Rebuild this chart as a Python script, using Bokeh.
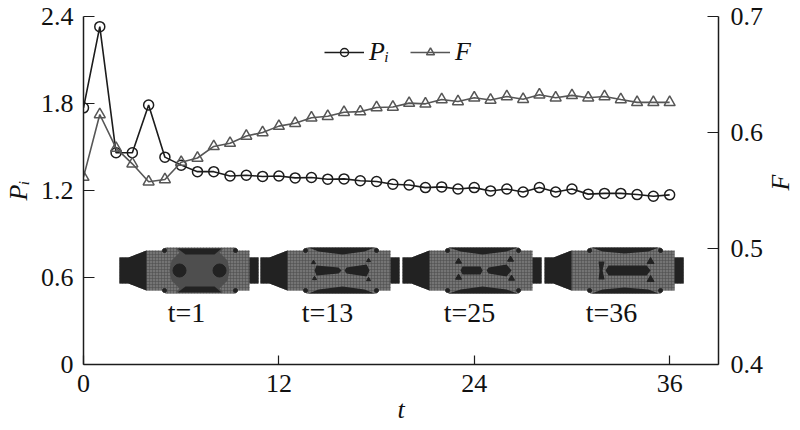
from bokeh.plotting import figure
from bokeh.embed import file_html
from bokeh.resources import INLINE
from bokeh.models import Range1d, LinearAxis, Legend, LegendItem, FixedTicker
from bokeh.core.properties import value

t = list(range(37))
pi_values = [1.77, 2.33, 1.46, 1.46, 1.79, 1.43, 1.375, 1.33, 1.33, 1.30, 1.305, 1.297, 1.30,
             1.287, 1.29, 1.278, 1.28, 1.267, 1.262, 1.243, 1.238, 1.22, 1.225, 1.21, 1.22,
             1.197, 1.21, 1.19, 1.22, 1.19, 1.21, 1.175, 1.18, 1.18, 1.172, 1.16, 1.17]
f_values = [0.5615, 0.6155, 0.5865, 0.573, 0.5575, 0.5595, 0.5744, 0.578, 0.588, 0.5908, 0.597,
            0.600, 0.6055, 0.608, 0.6127, 0.614, 0.6175, 0.618, 0.6215, 0.622, 0.6253, 0.6247,
            0.6284, 0.6267, 0.630, 0.628, 0.631, 0.6287, 0.6325, 0.630, 0.632, 0.630, 0.631,
            0.6284, 0.626, 0.626, 0.626]
x_ticks = [0, 12, 24, 36]
left_ticks = [0, 0.6, 1.2, 1.8, 2.4]
right_ticks = [0.4, 0.5, 0.6, 0.7]
inset_labels = ["t=1", "t=13", "t=25", "t=36"]

SERIF = "Liberation Serif"
INK = "#1c1c1c"
GREY = "#565656"

p = figure(width=800, height=430, frame_width=635, frame_height=348,
           output_backend="svg", toolbar_location=None,
           x_range=Range1d(0, 39), y_range=Range1d(0, 2.4),
           min_border_left=83, min_border_right=82, min_border_top=16, min_border_bottom=66)
p.outline_line_color = None
p.grid.visible = False
p.extra_y_ranges = {"f": Range1d(0.4, 0.7)}
right = LinearAxis(y_range_name="f")
p.add_layout(right, "right")


def style(ax, ticks, standoff):
    ax.ticker = FixedTicker(ticks=ticks)
    ax.major_tick_in = 11
    ax.major_tick_out = 0
    ax.minor_tick_line_color = None
    ax.axis_line_color = INK
    ax.axis_line_width = 1.5
    ax.major_tick_line_color = INK
    ax.major_tick_line_width = 1.2
    ax.major_label_text_font = SERIF
    ax.major_label_text_font_size = "26px"
    ax.major_label_text_color = "#111111"
    ax.major_label_standoff = standoff
    ax.axis_label_text_font = SERIF
    ax.axis_label_text_font_style = "italic"
    ax.axis_label_text_font_size = "26px"
    ax.axis_label_text_color = "#111111"


style(p.xaxis[0], x_ticks, 10)
style(p.yaxis[0], left_ticks, 10)
style(right, right_ticks, 12)
p.xaxis[0].major_tick_in = 9
p.yaxis[0].major_label_overrides = {0: "0"}
p.xaxis[0].axis_label = "t"
p.xaxis[0].axis_label_standoff = 0
p.yaxis[0].axis_label = "P\u1d62"
p.yaxis[0].axis_label_standoff = 5
right.axis_label = "F"
right.axis_label_standoff = 14
right.axis_label_orientation = 1.5708


def X(px):
    return (px - 83) / 16.28


def Y(py):
    return (364 - py) / 145


def poly(ox, pts, color, **kw):
    xs, ys = [], []
    for dx, dy in pts:
        xs.append(X(ox + dx))
        ys.append(Y(270 + dy))
    p.patch(xs, ys, fill_color=color, line_color=None, **kw)


BODY = "#747474"
DARK = "#222222"
OUTLINE = [(0, 13), (9, 13), (27, 20), (44, 20), (46, 23), (116, 23), (118, 20), (130, 20), (130, 13), (139, 13)]
upper = [(x, -y) for x, y in OUTLINE]

for ox, lab in zip([119, 260, 402, 544], inset_labels):
    poly(ox, upper + [(x, y) for x, y in reversed(OUTLINE)], BODY,
         hatch_pattern="cross", hatch_color="#4c4c4c", hatch_scale=3, hatch_weight=0.6, hatch_alpha=0.9)
    poly(ox, [(0, -13), (9, -13), (27, -20), (27, 20), (9, 13), (0, 13)], DARK)
    poly(ox, [(130, -13), (139, -13), (139, 13), (130, 13)], DARK)
    for sx in (45, 116):
        for sy in (-20, 20):
            p.scatter([X(ox + sx)], [Y(270 + sy)], size=4, marker="circle", color=DARK)
    p.text([X(ox + 67)], [Y(312)], text=[lab], text_font=value(SERIF), text_font_size="28px",
           text_color="#111111", text_align="center", text_baseline="middle")

# t=1 inset
o = 119
poly(o, [(50, 0), (52, -10), (60, -18), (56, -22), (104, -22), (100, -18), (108, -10), (110, 0),
         (108, 10), (100, 18), (104, 22), (56, 22), (60, 18), (52, 10)], "#4e4e4e")
for sgn in (-1, 1):
    poly(o, [(58, sgn * 22), (102, sgn * 22), (95, sgn * 16), (66, sgn * 16)], DARK)
p.scatter([X(o + 60), X(o + 100)], [Y(270), Y(270)], size=13, marker="circle", color=DARK)

# t=13 inset
o = 260
for sgn in (-1, 1):
    poly(o, [(48, sgn * 23), (114, sgn * 23), (104, sgn * 19), (82, sgn * 16), (58, sgn * 19)], DARK)
poly(o, [(56, -5), (78, -3), (81, 0), (78, 3), (56, 5), (54, 0)], DARK)
poly(o, [(86, -3), (106, -6), (109, 0), (106, 6), (86, 3), (84, 0)], DARK)
for dx, dy in [(53, -8), (54, 8), (108, -10), (108, 9)]:
    p.scatter([X(o + dx)], [Y(270 + dy)], size=4, marker="triangle", color=DARK)

# t=25 inset
o = 402
for sgn in (-1, 1):
    poly(o, [(46, sgn * 23), (115, sgn * 23), (104, sgn * 19), (80, sgn * 16), (58, sgn * 19)], DARK)
poly(o, [(60, -4), (78, -4), (80, 0), (78, 4), (60, 4), (58, 0)], DARK)
poly(o, [(86, -3), (104, -6), (109, 0), (104, 6), (86, 3), (84, 0)], DARK)
for dx, dy in [(56, -9), (56, 7), (108, -11), (109, 8)]:
    p.scatter([X(o + dx)], [Y(270 + dy)], size=6, marker="triangle", color=DARK)

# t=36 inset
o = 544
for sgn in (-1, 1):
    poly(o, [(47, sgn * 23), (114, sgn * 23), (104, sgn * 19), (80, sgn * 17), (58, sgn * 19)], DARK)
poly(o, [(64, -5), (102, -5), (106, 0), (102, 5), (64, 5), (61, 0)], DARK)
poly(o, [(54, -9), (60, -9), (58, 0), (60, 9), (54, 9), (55, 0)], DARK)
for dx, dy in [(106, -9), (106, 9)]:
    p.scatter([X(o + dx)], [Y(270 + dy)], size=7, marker="triangle", color=DARK)

l1 = p.line(t, pi_values, line_color=INK, line_width=1.6)
s1 = p.scatter(t, pi_values, marker="circle", size=10, line_color=INK, line_width=1.5, fill_alpha=0)
l2 = p.line(t, f_values, line_color=GREY, line_width=1.6, y_range_name="f")
s2 = p.scatter(t, f_values, marker="triangle", size=11, line_color=GREY, line_width=1.5, fill_alpha=0, y_range_name="f")

legend = Legend(items=[LegendItem(label="P\u1d62", renderers=[l1, s1]), LegendItem(label="F", renderers=[l2, s2])],
                orientation="horizontal", location=(241, 297), border_line_color=None,
                background_fill_alpha=0, glyph_width=40, glyph_height=20, spacing=21,
                label_standoff=5, padding=4, margin=0)
legend.label_text_font = SERIF
legend.label_text_font_style = "italic"
legend.label_text_font_size = "26px"
legend.label_text_color = "#111111"
p.add_layout(legend, "center")

open("out.html", "w").write(file_html(p, INLINE))
